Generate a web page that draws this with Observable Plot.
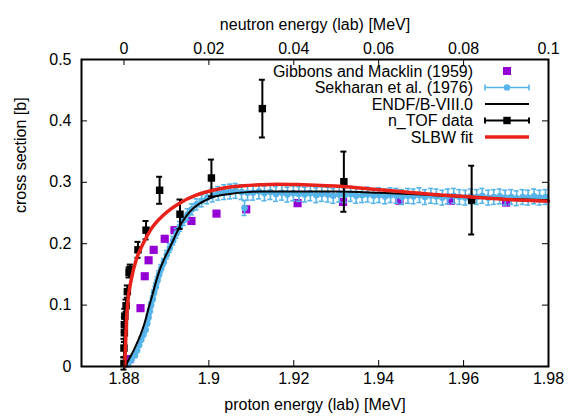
<!DOCTYPE html>
<html><head><meta charset="utf-8">
<script src="https://cdn.jsdelivr.net/npm/d3@7"></script>
<script src="https://cdn.jsdelivr.net/npm/@observablehq/plot@0.6"></script>
<style>body{margin:0;background:#fff} #chart svg{display:block}</style>
</head><body><div id="chart"></div>
<script>
// ---- data ----
const bottomTicks = [1.88, 1.90, 1.92, 1.94, 1.96, 1.98];
const bottomTickLabels = ["1.88", "1.9", "1.92", "1.94", "1.96", "1.98"];
const topTicks = [0, 0.02, 0.04, 0.06, 0.08, 0.1];       // neutron energy [MeV]
const topTickLabels = ["0", "0.02", "0.04", "0.06", "0.08", "0.1"];
const yTicks = [0, 0.1, 0.2, 0.3, 0.4, 0.5];
const yTickLabels = ["0", "0.1", "0.2", "0.3", "0.4", "0.5"];
const neutronOffset = 1.88; // proton energy at neutron energy 0

const legendLabels = ["Gibbons and Macklin (1959)", "Sekharan et al. (1976)", "ENDF/B-VIII.0", "n_TOF data", "SLBW fit"];

const gibbonsE  = [1.8813, 1.8839, 1.8849, 1.8858, 1.8870, 1.8896, 1.8919, 1.8959, 1.9018, 1.9088, 1.9209, 1.9316, 1.9449, 1.9570, 1.9700];
const gibbonsXS = [0.012, 0.095, 0.147, 0.173, 0.190, 0.208, 0.222, 0.237, 0.249, 0.256, 0.266, 0.268, 0.270, 0.270, 0.267];

const sekharanE = [1.8810, 1.8818, 1.8826, 1.8831, 1.8836, 1.8841, 1.8846, 1.8851, 1.8855, 1.8858, 1.8861, 1.8864, 1.8868, 1.8871, 1.8875, 1.8879, 1.8883, 1.8888, 1.8894, 1.8901, 1.8908, 1.8916, 1.8924, 1.8932, 1.8941, 1.8950, 1.8960, 1.8971, 1.8983, 1.8996, 1.9009, 1.9022, 1.9036, 1.9050, 1.9063, 1.9077, 1.9084, 1.9091,
  1.9104, 1.9118, 1.9131, 1.9145, 1.9158, 1.9172, 1.9185, 1.9199, 1.9212, 1.9226, 1.9239, 1.9253, 1.9266, 1.9280, 1.9293, 1.9307, 1.9320, 1.9334, 1.9347, 1.9361, 1.9374, 1.9388, 1.9401, 1.9415, 1.9428, 1.9442, 1.9455, 1.9469, 1.9482, 1.9496, 1.9509, 1.9523, 1.9536, 1.9550, 1.9563, 1.9577, 1.9590, 1.9604, 1.9617, 1.9631, 1.9644, 1.9658, 1.9671, 1.9685, 1.9698, 1.9712, 1.9725, 1.9739, 1.9752, 1.9766, 1.9779, 1.9793];
const sekharanXS = [0.003, 0.011, 0.018, 0.026, 0.035, 0.044, 0.052, 0.060, 0.070, 0.080, 0.090, 0.100, 0.110, 0.120, 0.130, 0.140, 0.150, 0.160, 0.170, 0.182, 0.193, 0.205, 0.217, 0.228, 0.238, 0.248, 0.256, 0.264, 0.270, 0.275, 0.279, 0.282, 0.284, 0.285, 0.286, 0.284, 0.258, 0.283,
  0.283, 0.285, 0.282, 0.284, 0.281, 0.283, 0.280, 0.282, 0.281, 0.280, 0.282, 0.279, 0.281, 0.280, 0.278, 0.280, 0.279, 0.281, 0.278, 0.279, 0.280, 0.278, 0.279, 0.277, 0.279, 0.278, 0.276, 0.278, 0.277, 0.279, 0.276, 0.278, 0.277, 0.275, 0.277, 0.278, 0.276, 0.275, 0.277, 0.276, 0.278, 0.275, 0.276, 0.277, 0.275, 0.276, 0.274, 0.276, 0.275, 0.277, 0.275, 0.276];
const sekharanErr = [0.003, 0.003, 0.003, 0.003, 0.004, 0.004, 0.004, 0.004, 0.004, 0.005, 0.005, 0.005, 0.005, 0.005, 0.006, 0.006, 0.006, 0.006, 0.006, 0.007, 0.007, 0.007, 0.008, 0.008, 0.008, 0.009, 0.009, 0.009, 0.010, 0.010, 0.011, 0.011, 0.012, 0.012, 0.012, 0.012, 0.012, 0.012,
  0.012, 0.012, 0.012, 0.012, 0.012, 0.012, 0.012, 0.012, 0.012, 0.012, 0.012, 0.012, 0.012, 0.012, 0.012, 0.012, 0.012, 0.012, 0.012, 0.012, 0.012, 0.012, 0.012, 0.012, 0.012, 0.012, 0.012, 0.012, 0.012, 0.012, 0.012, 0.012, 0.012, 0.012, 0.012, 0.012, 0.012, 0.012, 0.012, 0.012, 0.012, 0.012, 0.012, 0.012, 0.012, 0.012, 0.012, 0.012, 0.012, 0.012, 0.012, 0.012];

const endfE  = [1.8803, 1.8812, 1.8822, 1.8832, 1.8842, 1.8850, 1.8858, 1.8866, 1.8875, 1.8884, 1.8896, 1.8909, 1.8921, 1.8933, 1.8948, 1.8964, 1.8985, 1.9010, 1.9049, 1.9090, 1.9120, 1.9200, 1.9300, 1.9400, 1.9500, 1.9600, 1.9700, 1.9800];
const endfXS = [0.000, 0.012, 0.025, 0.040, 0.057, 0.074, 0.095, 0.114, 0.137, 0.157, 0.177, 0.195, 0.213, 0.230, 0.246, 0.258, 0.268, 0.276, 0.281, 0.284, 0.285, 0.285, 0.285, 0.283, 0.280, 0.276, 0.273, 0.271];

const slbwE  = [1.8802, 1.8804, 1.8806, 1.8809, 1.8817, 1.8829, 1.8845, 1.8865, 1.8892, 1.8931, 1.8970, 1.9010, 1.9060, 1.9120, 1.9160, 1.9220, 1.9316, 1.9380, 1.9450, 1.9530, 1.9620, 1.9700, 1.9800];
const slbwXS = [0.000, 0.040, 0.075, 0.104, 0.141, 0.174, 0.200, 0.225, 0.246, 0.266, 0.279, 0.287, 0.293, 0.296, 0.297, 0.296, 0.293, 0.289, 0.285, 0.280, 0.276, 0.272, 0.269];

const ntofE   = [1.8800, 1.8800, 1.8801, 1.8801, 1.8802, 1.8805, 1.8808, 1.8812, 1.8815, 1.8833, 1.8852, 1.8884, 1.8932, 1.9006, 1.9126, 1.9318, 1.9619];
const ntofXS  = [0.005, 0.030, 0.055, 0.068, 0.082, 0.099, 0.122, 0.153, 0.158, 0.190, 0.222, 0.287, 0.248, 0.307, 0.420, 0.301, 0.271];
const ntofErr = [0.010, 0.015, 0.015, 0.012, 0.012, 0.010, 0.010, 0.008, 0.008, 0.013, 0.015, 0.022, 0.024, 0.030, 0.047, 0.049, 0.056];

// ---- tables ----
const gib = gibbonsE.map((e, i) => ({e, s: gibbonsXS[i]}));
const sek = sekharanE.map((e, i) => ({e, s: sekharanXS[i], lo: sekharanXS[i] - sekharanErr[i], hi: sekharanXS[i] + sekharanErr[i]}));
const endf = endfE.map((e, i) => ({e, s: endfXS[i]}));
const slbw = slbwE.map((e, i) => ({e, s: slbwXS[i]}));
const ntof = ntofE.map((e, i) => ({e, s: ntofXS[i], lo: ntofXS[i] - ntofErr[i], hi: ntofXS[i] + ntofErr[i]}));

const BLUE = "#56b4e9", PURPLE = "#9400d3", RED = "#e8221a";
const FONT = "'Liberation Sans', Arial, Helvetica, sans-serif";
const W = 568, H = 418, ML = 81, MR = 20, MT = 59, MB = 52;
const FW = W - ML - MR, FH = H - MT - MB, TL = 6;

const chart = Plot.plot({
  width: W, height: H,
  marginLeft: ML, marginRight: MR, marginTop: MT, marginBottom: MB,
  style: {fontFamily: FONT, fontSize: "16px", background: "white", color: "black"},
  x: {domain: [1.87, 1.98], axis: null},
  y: {domain: [0, 0.5], axis: null},
  marks: [
    // Gibbons and Macklin
    Plot.dot(gib, {x: "e", y: "s", symbol: "square", r: 4.6, fill: PURPLE, stroke: null}),
    // Sekharan
    Plot.ruleX(sek, {x: "e", y1: "lo", y2: "hi", stroke: BLUE, strokeWidth: 1.6}),
    Plot.ruleY(sek, {y: "lo", x1: "e", x2: "e", insetLeft: -2.5, insetRight: -2.5, stroke: BLUE, strokeWidth: 1.6}),
    Plot.ruleY(sek, {y: "hi", x1: "e", x2: "e", insetLeft: -2.5, insetRight: -2.5, stroke: BLUE, strokeWidth: 1.6}),
    Plot.dot(sek, {x: "e", y: "s", r: 3.3, fill: BLUE, stroke: null}),
    // ENDF
    Plot.line(endf, {x: "e", y: "s", stroke: "black", strokeWidth: 2, curve: "monotone-x"}),
    // n_TOF
    Plot.ruleX(ntof, {x: "e", y1: "lo", y2: "hi", stroke: "black", strokeWidth: 2}),
    Plot.ruleY(ntof, {y: "lo", x1: "e", x2: "e", insetLeft: -3, insetRight: -3, stroke: "black", strokeWidth: 2}),
    Plot.ruleY(ntof, {y: "hi", x1: "e", x2: "e", insetLeft: -3, insetRight: -3, stroke: "black", strokeWidth: 2}),
    Plot.dot(ntof, {x: "e", y: "s", symbol: "square", r: 4.2, fill: "black", stroke: null}),
    // SLBW
    Plot.line(slbw, {x: "e", y: "s", stroke: RED, strokeWidth: 3.5, curve: "monotone-x"}),
    // inward ticks
    Plot.ruleX(bottomTicks, {x: d => d, insetTop: FH - TL, stroke: "black", strokeWidth: 1}),
    Plot.ruleX(topTicks, {x: d => neutronOffset + d, insetBottom: FH - TL, stroke: "black", strokeWidth: 1}),
    Plot.ruleY(yTicks, {y: d => d, insetRight: FW - TL, stroke: "black", strokeWidth: 1}),
    Plot.ruleY(yTicks, {y: d => d, insetLeft: FW - TL, stroke: "black", strokeWidth: 1}),
    // tick labels
    Plot.text(bottomTicks, {x: d => d, text: (d, i) => bottomTickLabels[i], frameAnchor: "bottom", dy: 17, fontSize: 16, fill: "black"}),
    Plot.text(topTicks, {x: d => neutronOffset + d, text: (d, i) => topTickLabels[i], frameAnchor: "top", dy: -17, fontSize: 16, fill: "black"}),
    Plot.text(yTicks, {y: d => d, text: (d, i) => yTickLabels[i], frameAnchor: "left", dx: -10, textAnchor: "end", fontSize: 16, fill: "black"}),
    // axis titles
    Plot.text(["proton energy (lab) [MeV]"], {frameAnchor: "bottom", dy: 43, fontSize: 16, fill: "black"}),
    Plot.text(["neutron energy (lab) [MeV]"], {frameAnchor: "top", dy: -41, fontSize: 16, fill: "black"}),
    Plot.text(["cross section [b]"], {frameAnchor: "left", dx: -61, rotate: -90, fontSize: 16, fill: "black"}),
    Plot.frame({stroke: "black", strokeWidth: 2})
  ]
});
document.getElementById("chart").appendChild(chart);

// ---- legend (inside, top right) ----
const svg = d3.select(chart);
const lg = svg.append("g").attr("font-family", FONT).attr("font-size", 16);
const rowY = i => 71 + i * 16.5;
const tx = 473, sx1 = 485, sx2 = 529, sxm = (sx1 + sx2) / 2;
legendLabels.forEach((t, i) => {
  lg.append("text").attr("x", tx).attr("y", rowY(i)).attr("text-anchor", "end")
    .attr("dy", "0.35em").attr("fill", "black").text(t);
});
// Gibbons
lg.append("rect").attr("x", sxm - 4).attr("y", rowY(0) - 4).attr("width", 8).attr("height", 8).attr("fill", PURPLE);
// Sekharan / n_TOF style samples
function errSample(i, color, sw) {
  const y = rowY(i);
  lg.append("line").attr("x1", sx1).attr("x2", sx2).attr("y1", y).attr("y2", y).attr("stroke", color).attr("stroke-width", sw);
  [sx1, sx2].forEach(x => lg.append("line").attr("x1", x).attr("x2", x).attr("y1", y - 3).attr("y2", y + 3).attr("stroke", color).attr("stroke-width", sw));
}
errSample(1, BLUE, 1.6);
lg.append("circle").attr("cx", sxm).attr("cy", rowY(1)).attr("r", 3.3).attr("fill", BLUE);
// ENDF
lg.append("line").attr("x1", sx1).attr("x2", sx2).attr("y1", rowY(2)).attr("y2", rowY(2)).attr("stroke", "black").attr("stroke-width", 2);
// n_TOF
errSample(3, "black", 2);
lg.append("rect").attr("x", sxm - 3.7).attr("y", rowY(3) - 3.7).attr("width", 7.4).attr("height", 7.4).attr("fill", "black");
// SLBW
lg.append("line").attr("x1", sx1).attr("x2", sx2).attr("y1", rowY(4)).attr("y2", rowY(4)).attr("stroke", RED).attr("stroke-width", 3.5);
</script></body></html>
